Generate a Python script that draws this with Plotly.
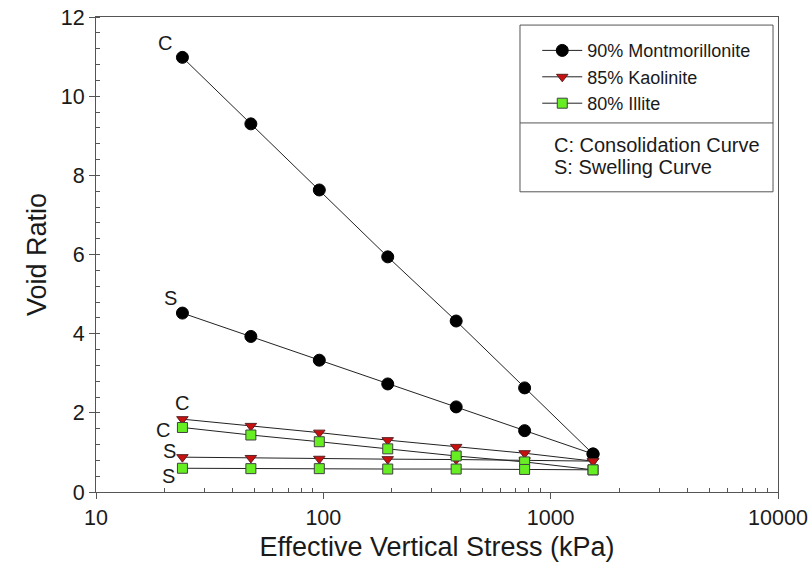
import plotly.graph_objects as go
import math

stress = [24, 48, 96, 192, 384, 768, 1536]

mont_c = [10.98, 9.30, 7.63, 5.94, 4.32, 2.63, 0.96]
mont_s = [4.52, 3.93, 3.33, 2.73, 2.15, 1.55, 0.96]
kaol_c = [1.84, 1.67, 1.50, 1.31, 1.14, 0.98, 0.78]
kaol_s = [0.88, 0.86, 0.84, 0.83, 0.82, 0.80, 0.78]
illi_c = [1.63, 1.44, 1.27, 1.09, 0.91, 0.76, 0.56]
illi_s = [0.60, 0.59, 0.59, 0.58, 0.58, 0.57, 0.56]

names = ["90% Montmorillonite", "85% Kaolinite", "80% Illite"]
x_ticks = [10, 100, 1000, 10000]
y_ticks = [0, 2, 4, 6, 8, 10, 12]

FONT = "Liberation Sans, Arial, sans-serif"
TXT = "#1a1a1a"

fig = go.Figure()

mk_mont = dict(symbol="circle", size=12, color="black", line=dict(color="black", width=1))
mk_kaol = dict(symbol="triangle-down", size=10, color="#c81010", line=dict(color="#5a2020", width=1))
mk_illi = dict(symbol="square", size=10, color="#66ee22", line=dict(color="#404040", width=1))
line = dict(color="#222222", width=1)

series = [
    (mont_c, mk_mont, names[0], True),
    (mont_s, mk_mont, names[0], False),
    (kaol_c, mk_kaol, names[1], True),
    (kaol_s, mk_kaol, names[1], False),
    (illi_c, mk_illi, names[2], True),
    (illi_s, mk_illi, names[2], False),
]
for ys, mk, nm, show in series:
    fig.add_trace(go.Scatter(x=stress, y=ys, mode="lines+markers", marker=mk, line=line,
                             name=nm, showlegend=show, legendgroup=nm))

# curve labels (C = consolidation, S = swelling), offset from the first point of each curve
labels = [
    ("C", mont_c[0], -17, 14),
    ("S", mont_s[0], -12, 15),
    ("C", kaol_c[0], 0, 16),
    ("C", illi_c[0], -19, -3),
    ("S", kaol_s[0], -13, 6),
    ("S", illi_s[0], -14, -8),
]
for txt, yv, xs, ysh in labels:
    fig.add_annotation(x=math.log10(stress[0]), y=yv, text=txt, showarrow=False,
                       xshift=xs, yshift=ysh, font=dict(size=20, color=TXT, family=FONT))

axis_common = dict(showgrid=False, zeroline=False, showline=True, linecolor="#555",
                   linewidth=1, mirror=True, ticks="outside", ticklen=6, tickcolor="#555",
                   automargin=False, ticklabeloverflow="allow",
                   tickfont=dict(size=21.5, color=TXT, family=FONT))

fig.update_xaxes(type="log", range=[1, 4], tickmode="array", tickvals=x_ticks,
                 ticktext=[str(v) for v in x_ticks],
                 minor=dict(ticks="inside", ticklen=4, tickcolor="#555",
                            tickvals=[m * 10 ** e for e in (1, 2, 3) for m in range(2, 10)]),
                 title=dict(text="Effective Vertical Stress (kPa)", font=dict(size=27, color=TXT, family=FONT),
                            standoff=8),
                 **axis_common)
fig.update_yaxes(range=[0, 12], tickmode="array", tickvals=y_ticks,
                 minor=dict(ticks="inside", ticklen=4, tickcolor="#555", dtick=0.4, tick0=0),
                 title=dict(text="Void Ratio", font=dict(size=27, color=TXT, family=FONT), standoff=6),
                 **axis_common)

# legend box and divider
fig.add_shape(type="rect", xref="paper", yref="paper", x0=0.6217, x1=0.9927, y0=0.632, y1=0.983,
              line=dict(color="#555", width=1))
fig.add_shape(type="line", xref="paper", yref="paper", x0=0.6217, x1=0.9927, y0=0.777, y1=0.777,
              line=dict(color="#555", width=1))
fig.add_annotation(xref="paper", yref="paper", x=0.669, y=0.731, xanchor="left", yanchor="middle",
                   text="C: Consolidation Curve", showarrow=False,
                   font=dict(size=20, color=TXT, family=FONT))
fig.add_annotation(xref="paper", yref="paper", x=0.669, y=0.685, xanchor="left", yanchor="middle",
                   text="S: Swelling Curve", showarrow=False,
                   font=dict(size=20, color=TXT, family=FONT))

fig.update_layout(
    width=812, height=574,
    margin=dict(l=96, r=34, t=17, b=82),
    plot_bgcolor="white", paper_bgcolor="white",
    font=dict(family=FONT, color=TXT),
    legend=dict(x=0.647, y=0.968, xanchor="left", yanchor="top", bgcolor="rgba(0,0,0,0)",
                borderwidth=0, font=dict(size=18, color=TXT, family=FONT),
                tracegroupgap=0, itemwidth=40),
)

# remove the default page margin so the figure fills the window exactly; hide the mode bar
fig.write_html("out.html", config={"displayModeBar": False},
               post_script="document.body.style.margin='0';")
